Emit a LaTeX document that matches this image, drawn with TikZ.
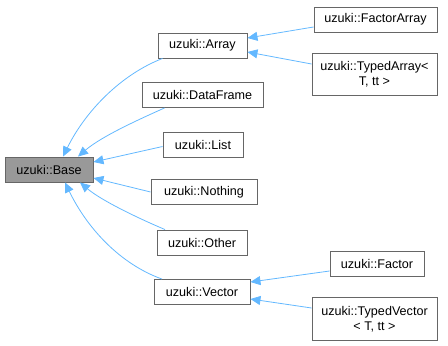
\documentclass[tikz,border=0pt]{standalone}
\usepackage{fontspec}
\setmainfont{Liberation Sans}
\usetikzlibrary{arrows.meta}
\definecolor{edgeblue}{HTML}{63B8FF}
\definecolor{boxline}{HTML}{666666}
\definecolor{basefill}{HTML}{999999}
\tikzset{
  cls/.style={draw=boxline, line width=0.9pt, fill=white, rectangle,
    inner sep=0pt, minimum height=25pt, align=center,
    font=\fontsize{12.6}{15}\selectfont},
  rootcls/.style={cls, fill=basefill},
  inherit/.style={draw=edgeblue, line width=0.8pt,
    -{Triangle[length=10pt,width=9pt,fill=edgeblue]}},
}
\begin{document}
\begin{tikzpicture}[x=1pt, y=-1pt]
\useasboundingbox (0,0) rectangle (448,346);

% classes
\node[rootcls, minimum width=88pt]  (base)        at (49,169.5)  {uzuki::Base};
\node[cls, minimum width=89pt]      (array)       at (202.5,45.5) {uzuki::Array};
\node[cls, minimum width=121pt]     (dataframe)   at (202.5,95)  {uzuki::DataFrame};
\node[cls, minimum width=80pt]      (list)        at (203,145)   {uzuki::List};
\node[cls, minimum width=106pt]     (nothing)     at (204,192)   {uzuki::Nothing};
\node[cls, minimum width=90pt]      (other)       at (202,242.5) {uzuki::Other};
\node[cls, minimum width=96pt]      (vector)      at (202,292)   {uzuki::Vector};
\node[cls, minimum width=123pt]     (factorarray) at (375.5,19.5) {uzuki::FactorArray};
\node[cls, minimum width=125pt, minimum height=42pt] (typedarray) at (374.5,74.5)
  {uzuki::TypedArray<\\T, tt >};
\node[cls, minimum width=94pt]      (factor)      at (377,263.5) {uzuki::Factor};
\node[cls, minimum width=125pt, minimum height=43pt] (typedvector) at (374.5,319)
  {uzuki::TypedVector\\< T, tt >};

% inheritance into uzuki::Base
\draw[inherit] ([xshift=-40pt]array.south) .. controls (120,75) and (85,112) .. ([xshift=14pt]base.north);
\draw[inherit] ([xshift=-38pt]dataframe.south) .. controls (140,119) and (102,136) .. ([xshift=29pt]base.north);
\draw[inherit] ([yshift=-1.5pt]list.west) -- ([yshift=7.5pt]base.east);
\draw[inherit] (nothing.west) -- ([yshift=-8.5pt]base.east);
\draw[inherit] ([xshift=-37pt]other.north) .. controls (140,219) and (102,201) .. ([xshift=31pt]base.south);
\draw[inherit] ([xshift=-40pt]vector.north) .. controls (120,264) and (87,228) .. ([xshift=16pt]base.south);

% inheritance into uzuki::Array and uzuki::Vector
\draw[inherit] ([yshift=-7.5pt]factorarray.west) -- ([yshift=7.5pt]array.east);
\draw[inherit] ([yshift=10.5pt]typedarray.west) -- ([yshift=-6.5pt]array.east);
\draw[inherit] ([yshift=-7.5pt]factor.west) -- ([yshift=10pt]vector.east);
\draw[inherit] ([yshift=11pt]typedvector.west) -- ([yshift=-7pt]vector.east);
\end{tikzpicture}
\end{document}
